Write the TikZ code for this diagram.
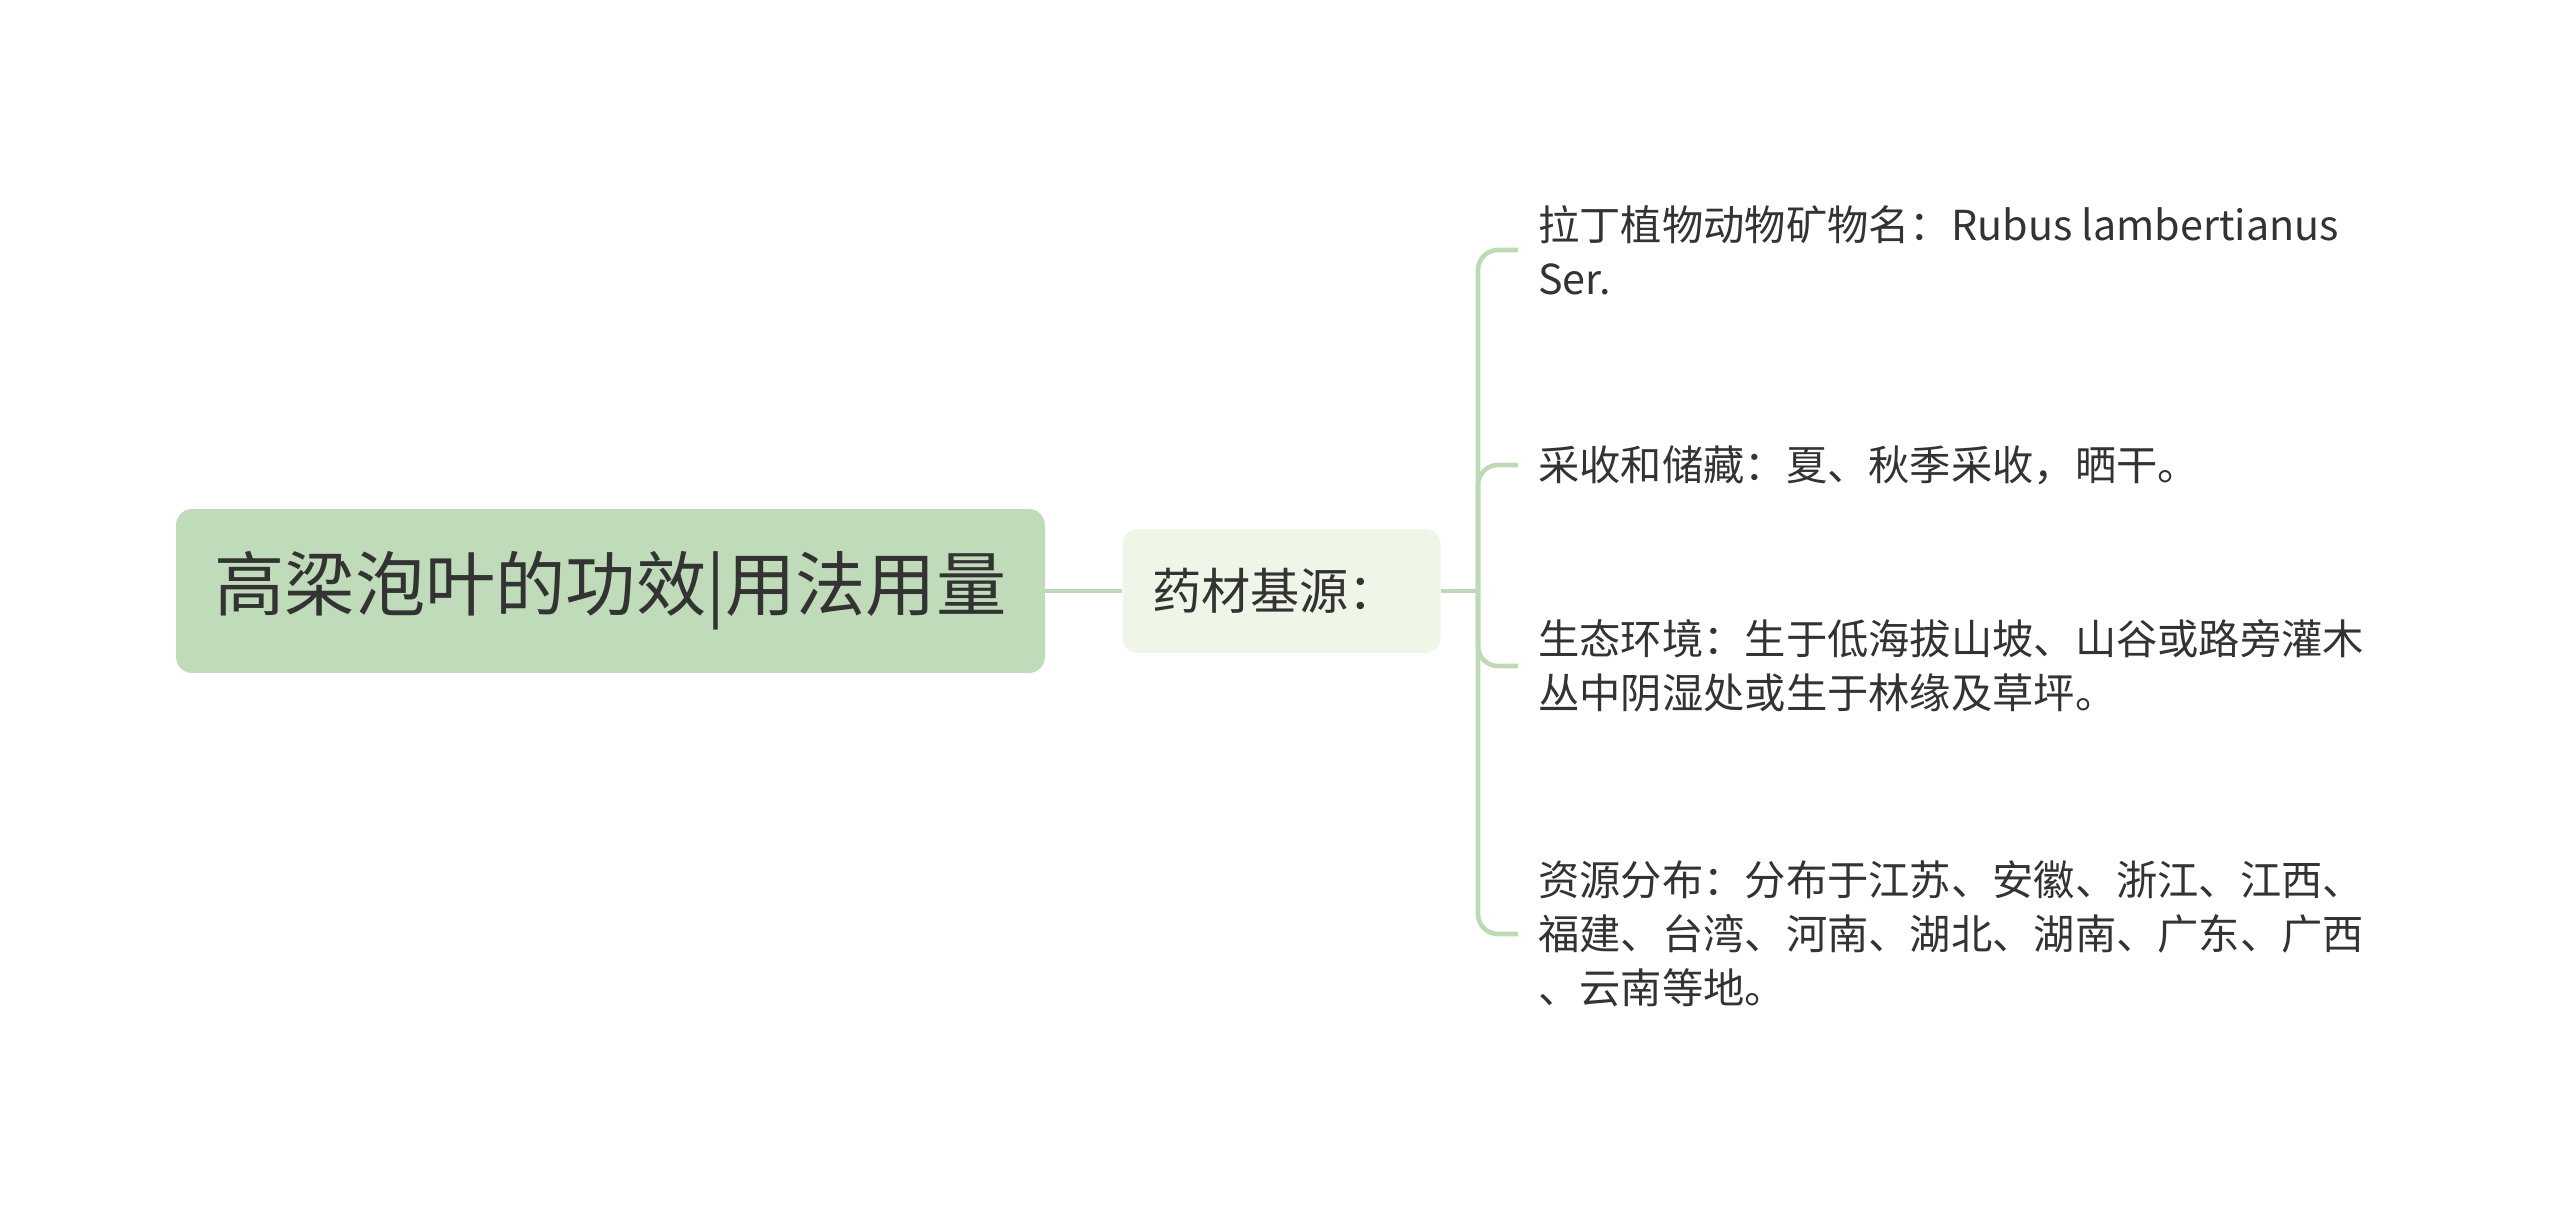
\documentclass[tikz,border=0pt]{standalone}
\usepackage{fontspec}
\setmainfont{Noto Sans CJK SC}
\definecolor{rootgreen}{HTML}{C0DBB9}
\definecolor{subgreen}{HTML}{EFF6E8}
\definecolor{linkgreen}{HTML}{BDD9B6}
\definecolor{inkgray}{HTML}{333333}
\usetikzlibrary{positioning}
\tikzset{
	rootbox/.style={
		rectangle,
		rounded corners=0.32cm,
		fill=rootgreen,
		text=inkgray,
		minimum width=17.38cm,
		minimum height=3.28cm,
		font=\fontsize{40}{48}\selectfont},
	subbox/.style={
		rectangle,
		rounded corners=0.3cm,
		fill=subgreen,
		text=inkgray,
		inner xsep=0.59cm,
		text width=5.18cm,
		align=left,
		minimum height=2.48cm,
		font=\fontsize{28}{33}\selectfont},
	leaf/.style={
		anchor=west,
		align=left,
		inner xsep=0.4cm,
		text=inkgray,
		font=\fontsize{23.5}{30.8}\selectfont},
	link/.style={draw=linkgreen, line width=2.6pt, rounded corners=0.4cm},
}

\begin{document}
\begin{tikzpicture}
[x=0.02cm, y=-0.02cm,
node distance=1.54cm]
\useasboundingbox (0,0) rectangle (2560,1209);
\node[rootbox] (root) at (610.5,591) {高梁泡叶的功效|用法用量};
\node[subbox, right=of root] (source) {药材基源：};
\coordinate (fork) at (1478,591);

\node[leaf] (latin) at (1518,250) {拉丁植物动物矿物名：Rubus lambertianus\\Ser.};
\node[leaf] (harvest) at (1518,465) {采收和储藏：夏、秋季采收，晒干。};
\node[leaf] (habitat) at (1518,666) {生态环境：生于低海拔山坡、山谷或路旁灌木\\丛中阴湿处或生于林缘及草坪。};
\node[leaf] (range) at (1518,934) {资源分布：分布于江苏、安徽、浙江、江西、\\福建、台湾、河南、湖北、湖南、广东、广西\\、云南等地。};

\draw[link] (root) -- (source);
\draw[link] (source) -- (fork);
\foreach \leafname in {latin,harvest,habitat,range}
	\draw[link] (fork) |- (\leafname.west);
\end{tikzpicture}
\end{document}
